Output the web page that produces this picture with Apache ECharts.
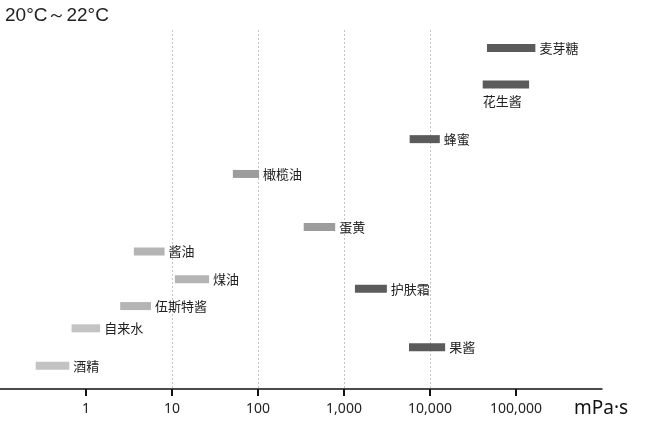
<!DOCTYPE html>
<html>
<head>
<meta charset="utf-8">
<script src="https://cdn.jsdelivr.net/npm/echarts@6/dist/echarts.min.js"></script>
<style>
  html, body { margin: 0; padding: 0; background: #fff; }
  #main { width: 647px; height: 425px; }
</style>
</head>
<body>
<div id="main"></div>
<script>
// 液体名称
var names = ['麦芽糖', '花生酱', '蜂蜜', '橄榄油', '蛋黄', '酱油', '煤油', '护肤霜', '伍斯特酱', '自来水', '果酱', '酒精'];
// 粘度范围 mPa·s (下限 / 上限)
var lowVals = [46000, 41000, 5800, 51, 340, 3.6, 10.8, 1340, 2.5, 0.68, 5700, 0.26];
var highVals = [168000, 142000, 13000, 103, 790, 8.2, 27, 3150, 5.7, 1.46, 15000, 0.64];
// 纵向排列位置 (0~100)
var rows = [95.0, 84.8, 69.6, 59.9, 45.1, 38.3, 30.6, 27.9, 23.1, 16.9, 11.6, 6.5];
// 颜色分组 0深 1中 2浅 3最浅
var shade = [0, 0, 0, 1, 1, 2, 2, 0, 2, 3, 0, 3];
var xTicks = [1, 10, 100, 1000, 10000, 100000];

var shadeColors = ['#5b5b5b', '#9c9c9c', '#b4b4b4', '#c3c3c3'];
var cjk = '"Noto Sans CJK SC", "Noto Sans", sans-serif';

var data = names.map(function (n, i) {
  return [lowVals[i], highVals[i], rows[i], i];
});

var myChart = echarts.init(document.getElementById('main'));

myChart.setOption({
  animation: false,
  title: {
    text: '20°C～22°C',
    left: 0,
    top: 1,
    textStyle: {
      fontFamily: '"Liberation Sans", Arial, sans-serif',
      fontSize: 19,
      fontWeight: 'normal',
      color: '#222'
    }
  },
  grid: { left: 0, right: 45, top: 30, bottom: 36 },
  xAxis: {
    type: 'log',
    min: 0.1,
    max: 1000000,
    logBase: 10,
    name: 'mPa·s',
    nameLocation: 'end',
    nameGap: -28,
    nameTextStyle: {
      fontFamily: '"Noto Sans", sans-serif',
      fontSize: 19,
      color: '#111',
      verticalAlign: 'top',
      padding: [10, 0, 0, 0]
    },
    axisLine: { lineStyle: { color: '#111', width: 1.5 } },
    axisTick: {
      customValues: xTicks,
      length: 7,
      inside: false,
      lineStyle: { color: '#111', width: 2 }
    },
    axisLabel: {
      customValues: xTicks,
      margin: 13,
      fontFamily: '"Noto Sans", sans-serif',
      fontSize: 14,
      color: '#222',
      formatter: function (v) {
        return Number(v).toLocaleString('en-US');
      }
    },
    splitLine: {
      show: true,
      showMinLine: false,
      showMaxLine: false,
      lineStyle: { color: '#c4c4c4', type: [2, 2], width: 1 }
    }
  },
  yAxis: {
    type: 'value',
    min: 0,
    max: 100,
    show: false,
    splitLine: { show: false }
  },
  series: [{
    type: 'custom',
    data: data,
    encode: { x: [0, 1], y: 2 },
    renderItem: function (params, api) {
      var i = api.value(3);
      var p1 = api.coord([api.value(0), api.value(2)]);
      var p2 = api.coord([api.value(1), api.value(2)]);
      var h = 8;
      var below = names[i] === '花生酱';
      return {
        type: 'group',
        children: [{
          type: 'rect',
          shape: { x: p1[0], y: p1[1] - h / 2, width: p2[0] - p1[0], height: h },
          style: { fill: shadeColors[shade[i]] }
        }, {
          type: 'text',
          x: below ? p1[0] : p2[0] + 4,
          y: below ? p1[1] + 16 : p1[1],
          style: {
            text: names[i],
            fill: '#222',
            font: '13px ' + cjk,
            align: 'left',
            verticalAlign: 'middle'
          }
        }]
      };
    }
  }]
});
</script>
</body>
</html>
